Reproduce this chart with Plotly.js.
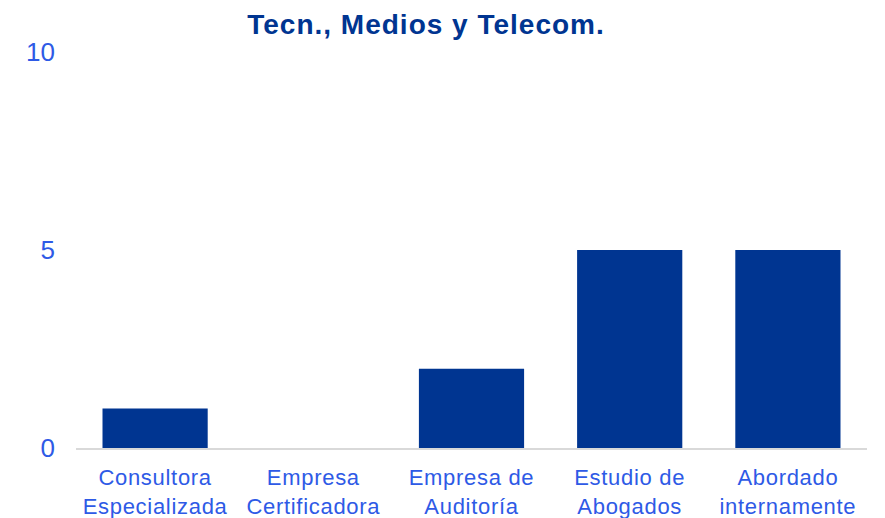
<!DOCTYPE html>
<html>
<head>
<meta charset="utf-8">
<script src="https://cdn.plot.ly/plotly-3.0.1.min.js"></script>
<style>
html,body{margin:0;padding:0;background:#fff;}
#chart{width:885px;height:518px;}
#chart .xtick text{letter-spacing:0.7px;}
#chart text.gtitle{letter-spacing:1px;}
</style>
</head>
<body>
<div id="chart"></div>
<script>
const categories = ["Consultora<br>Especializada", "Empresa<br>Certificadora", "Empresa de<br>Auditoría", "Estudio de<br>Abogados", "Abordado<br>internamente"];
const values = [1, 0, 2, 5, 5];
const yTicks = [0, 5, 10];

const trace = {
  type: 'bar',
  x: categories,
  y: values,
  marker: {color: '#003591'},
  hoverinfo: 'x+y'
};

const layout = {
  width: 885,
  height: 518,
  margin: {l: 76, r: 18, t: 52, b: 70},
  paper_bgcolor: '#ffffff',
  plot_bgcolor: '#ffffff',
  bargap: 0.335,
  showlegend: false,
  title: {
    text: '<b>Tecn., Medios y Telecom.</b>',
    font: {family: 'Liberation Sans, Arial, sans-serif', size: 28, color: '#003591'},
    x: 426 / 885, xanchor: 'center', xref: 'container',
    yref: 'container', y: 1 - 24 / 518, yanchor: 'middle'
  },
  xaxis: {
    showgrid: false,
    showline: true,
    linecolor: '#d9d9d9',
    linewidth: 2,
    ticks: '',
    zeroline: false,
    ticklabelstandoff: 9,
    tickfont: {family: 'Liberation Sans, Arial, sans-serif', size: 22, color: '#2e5ae6'}
  },
  yaxis: {
    range: [0, 10],
    tickvals: yTicks,
    showgrid: false,
    zeroline: false,
    showline: false,
    ticks: '',
    ticklabelstandoff: 20,
    tickfont: {family: 'Liberation Sans, Arial, sans-serif', size: 26, color: '#2e5ae6'}
  }
};

Plotly.newPlot('chart', [trace], layout, {displayModeBar: false, staticPlot: true});
</script>
</body>
</html>
